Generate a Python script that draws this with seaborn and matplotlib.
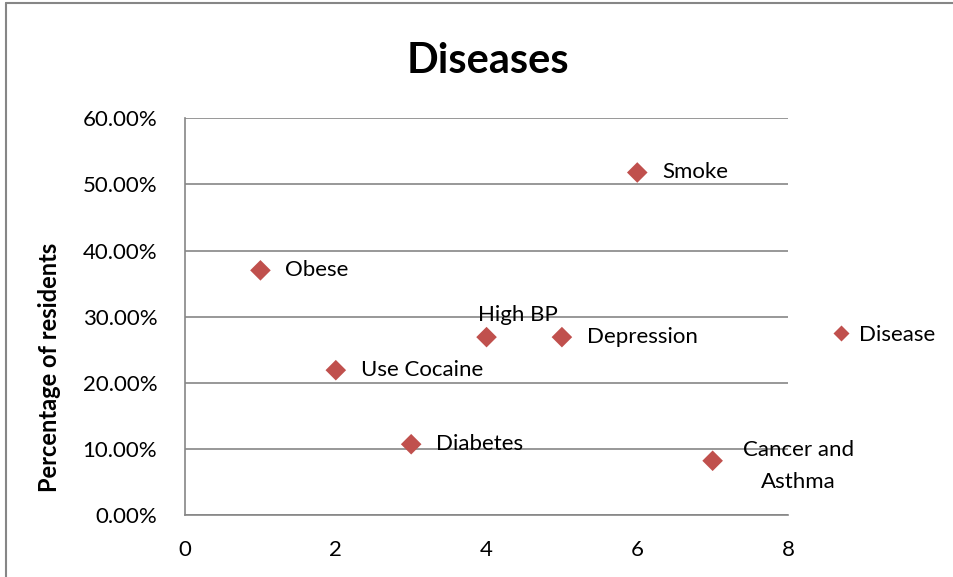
import pandas as pd
import seaborn as sns
import matplotlib.pyplot as plt
from matplotlib.ticker import PercentFormatter

# values
x_pos = [1, 2, 3, 4, 5, 6, 7]
percent = [0.370, 0.219, 0.107, 0.269, 0.269, 0.518, 0.082]
labels = ['Obese', 'Use Cocaine', 'Diabetes', 'High BP', 'Depression', 'Smoke', 'Cancer and\nAsthma']

df = pd.DataFrame({'x': x_pos, 'pct': percent, 'label': labels, 'series': 'Disease'})

sns.set_style("white")
plt.rcParams['font.family'] = ['Lato', 'DejaVu Sans']
plt.rcParams['text.color'] = 'black'
plt.rcParams['axes.labelcolor'] = 'black'
plt.rcParams['xtick.color'] = 'black'
plt.rcParams['ytick.color'] = 'black'

fig = plt.figure(figsize=(9.54, 5.77), dpi=100)
ax = fig.add_axes([0.194, 0.1075, 0.632, 0.6875])

red = '#C0504D'
sns.scatterplot(data=df, x='x', y='pct', hue='series', palette=[red], marker='D',
                s=110, edgecolor='none', ax=ax)

fs = 16
# data labels, Excel style
for xx, yy, lab in zip(x_pos, percent, labels):
    if lab == 'High BP':
        ax.annotate(lab, (xx, yy), xytext=(-6, 9), textcoords='offset points',
                    ha='left', va='bottom', fontsize=fs)
    elif lab.startswith('Cancer'):
        ax.annotate(lab, (xx, yy), xytext=(62, -4), textcoords='offset points',
                    ha='center', va='center', fontsize=fs, multialignment='center',
                    linespacing=1.75)
    else:
        ax.annotate(lab, (xx, yy), xytext=(18, 0), textcoords='offset points',
                    ha='left', va='center', fontsize=fs)

ax.set_xlim(0, 8)
ax.set_ylim(0, 0.6)
ax.set_xticks([0, 2, 4, 6, 8])
ax.set_yticks([0, 0.1, 0.2, 0.3, 0.4, 0.5, 0.6])
ax.yaxis.set_major_formatter(PercentFormatter(1.0, decimals=2))
ax.tick_params(axis='both', labelsize=fs, length=0)
ax.tick_params(axis='x', pad=18)
ax.tick_params(axis='y', pad=20)
ax.grid(axis='y', color='#868686', linewidth=1.2)
ax.set_axisbelow(True)
for side in ['top', 'right']:
    ax.spines[side].set_visible(False)
for side in ['left', 'bottom']:
    ax.spines[side].set_color('#868686')
    ax.spines[side].set_linewidth(1.2)

ax.set_xlabel('')
ax.set_ylabel('Percentage of residents', fontsize=17, fontweight='bold')
ax.yaxis.set_label_coords(-0.206, 0.373)
fig.suptitle('Diseases', fontsize=30, fontweight='bold', x=0.511, y=0.928)

leg = ax.legend(loc='center left', bbox_to_anchor=(0.872, 0.42), bbox_transform=fig.transFigure,
                frameon=False, fontsize=fs, handlelength=0.8, handletextpad=0.4,
                borderpad=0, borderaxespad=0, markerscale=0.8)

# outer chart border (left and top visible in the reference)
fig.add_artist(plt.Line2D([0.006, 0.006], [0, 0.995], transform=fig.transFigure, color='#868686', lw=1.5))
fig.add_artist(plt.Line2D([0.006, 1.0], [0.995, 0.995], transform=fig.transFigure, color='#868686', lw=1.5))

fig.savefig('out.png', dpi=100)
